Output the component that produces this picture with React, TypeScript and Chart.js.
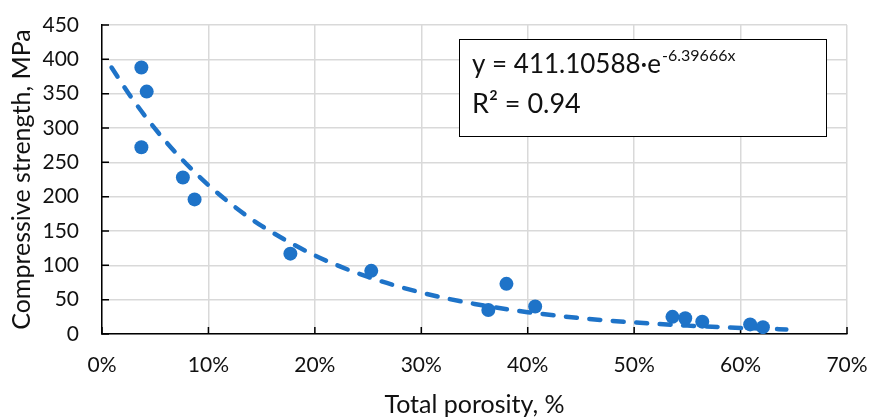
import React, { useEffect, useRef } from "react";
import { Chart, registerables } from "chart.js";

Chart.register(...registerables);

// Measured points: total porosity (%) vs compressive strength (MPa)
const porosity = [3.7, 4.2, 3.7, 7.6, 8.7, 17.7, 25.3, 36.3, 38.0, 40.7, 53.6, 54.8, 56.4, 60.9, 62.1];
const strength = [388, 353, 272, 228, 196, 117, 92, 35, 73, 40, 25, 23, 18, 14, 10];

// Exponential trendline as drawn in the picture
const trendX = [0.9, 2.5, 5, 7.5, 10, 12.5, 15, 20, 25, 30, 35, 40, 45, 50, 55, 60, 64.3];
const trendY = [388.1, 350.3, 298.6, 254.5, 216.8, 184.8, 157.5, 114.4, 83.1, 60.3, 43.8, 31.8, 23.1, 16.8, 12.2, 8.9, 6.7];

const xTicks = [0, 10, 20, 30, 40, 50, 60, 70];
const yTicks = [0, 50, 100, 150, 200, 250, 300, 350, 400, 450];

const equationMain = "y = 411.10588·e";
const equationExp = "-6.39666x";
const rSquared = "R² = 0.94";

const BLUE = "#1E73C8";
const TEXT = "#111111";
const FONT = "Lato";

const insideTicks = {
  id: "insideTicks",
  beforeDatasetsDraw(chart: any) {
    const { ctx, scales } = chart;
    const x = scales.x;
    const y = scales.y;
    ctx.save();
    ctx.strokeStyle = "#000";
    ctx.lineWidth = 1.5;
    ctx.beginPath();
    xTicks.forEach((v) => {
      const px = x.getPixelForValue(v);
      ctx.moveTo(px, y.bottom);
      ctx.lineTo(px, y.bottom - 7);
    });
    yTicks.forEach((v) => {
      const py = y.getPixelForValue(v);
      ctx.moveTo(x.left, py);
      ctx.lineTo(x.left + 7, py);
    });
    ctx.stroke();
    ctx.restore();
  },
};

const equationBox = {
  id: "equationBox",
  afterDatasetsDraw(chart: any) {
    const { ctx, chartArea } = chart;
    const left = chartArea.left + 357;
    const top = chartArea.top + 14;
    const w = 367;
    const h = 97;
    ctx.save();
    ctx.fillStyle = "#fff";
    ctx.fillRect(left, top, w, h);
    ctx.strokeStyle = "#000";
    ctx.lineWidth = 1;
    ctx.strokeRect(left + 0.5, top + 0.5, w, h);
    ctx.fillStyle = TEXT;
    ctx.textBaseline = "alphabetic";
    ctx.textAlign = "left";
    ctx.font = `26px ${FONT}`;
    const tx = left + 13;
    ctx.fillText(equationMain, tx, top + 34);
    const mw = ctx.measureText(equationMain).width;
    ctx.font = `16px ${FONT}`;
    ctx.fillText(equationExp, tx + mw + 1, top + 22);
    ctx.font = `27px ${FONT}`;
    ctx.fillText(rSquared, tx, top + 74);
    ctx.restore();
  },
};

export default function App() {
  const ref = useRef<HTMLCanvasElement | null>(null);

  useEffect(() => {
    if (!ref.current) return;
    const chart = new Chart(ref.current, {
      type: "scatter",
      data: {
        datasets: [
          {
            label: "data",
            data: porosity.map((p, i) => ({ x: p, y: strength[i] })),
            backgroundColor: BLUE,
            borderColor: BLUE,
            pointRadius: 7,
            pointBorderWidth: 0,
            order: 1,
          },
          {
            label: "trend",
            data: trendX.map((p, i) => ({ x: p, y: trendY[i] })),
            showLine: true,
            borderColor: BLUE,
            borderWidth: 4.5,
            borderDash: [11, 12.5],
            borderCapStyle: "round",
            cubicInterpolationMode: "monotone",
            pointRadius: 0,
            order: 2,
          },
        ],
      },
      plugins: [insideTicks, equationBox],
      options: {
        responsive: false,
        animation: false,
        layout: { padding: { top: 25, right: 22, bottom: 0, left: 0 } },
        plugins: {
          legend: { display: false },
          tooltip: { enabled: false },
        },
        scales: {
          x: {
            type: "linear",
            min: 0,
            max: 70,
            afterBuildTicks: (s: any) => {
              s.ticks = xTicks.map((v) => ({ value: v }));
            },
            afterFit: (s: any) => {
              s.height = 83;
              s.paddingLeft = 0;
              s.paddingRight = 0;
            },
            ticks: {
              callback: (v: any) => `${v}%`,
              color: TEXT,
              font: { family: FONT, size: 21 },
              padding: 19,
              maxRotation: 0,
            },
            grid: { color: "#d9d9d9", lineWidth: 1.5, drawTicks: false },
            border: { color: "#000", width: 1.5 },
            title: {
              display: true,
              text: "Total porosity, %",
              color: TEXT,
              font: { family: FONT, size: 25, lineHeight: 1 },
              padding: { top: 0, bottom: 0 },
            },
          },
          y: {
            type: "linear",
            min: 0,
            max: 450,
            afterBuildTicks: (s: any) => {
              s.ticks = yTicks.map((v) => ({ value: v }));
            },
            afterFit: (s: any) => {
              s.width = 102;
              s.paddingTop = 0;
              s.paddingBottom = 0;
            },
            ticks: {
              color: TEXT,
              font: { family: FONT, size: 21 },
              padding: 23,
            },
            grid: { color: "#d9d9d9", lineWidth: 1.5, drawTicks: false },
            border: { color: "#000", width: 1.5 },
            title: {
              display: true,
              text: "Compressive strength, MPa",
              color: TEXT,
              font: { family: FONT, size: 25, lineHeight: 1 },
              padding: { top: 9, bottom: 0 },
            },
          },
        },
      },
    } as any);
    return () => chart.destroy();
  }, []);

  return (
    <div style={{ position: "absolute", left: 0, top: 0, width: 869, height: 417, background: "#fff" }}>
      <canvas ref={ref} width={869} height={417} />
    </div>
  );
}
